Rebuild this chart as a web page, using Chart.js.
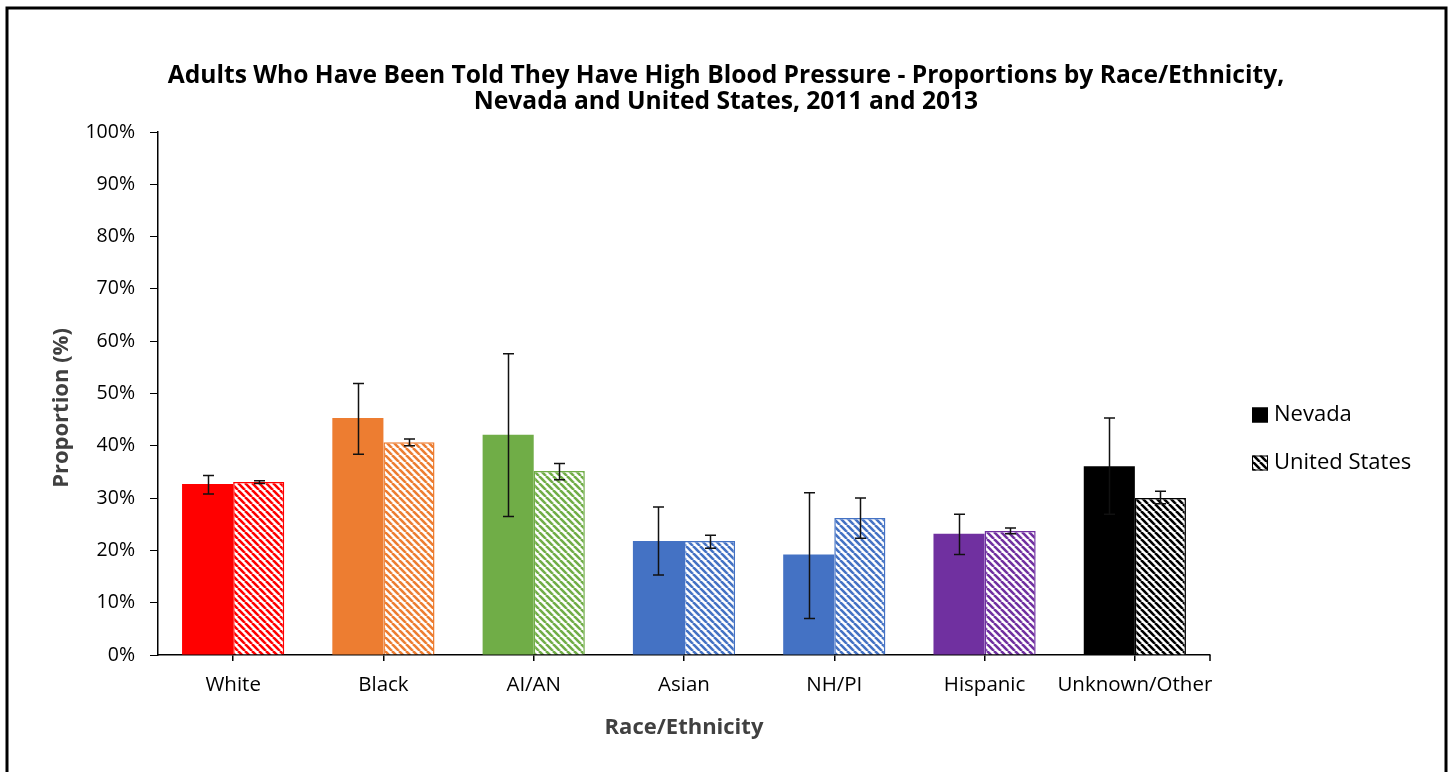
<!DOCTYPE html>
<html>
<head>
<meta charset="utf-8">
<script src="https://cdn.jsdelivr.net/npm/chart.js@4/dist/chart.umd.min.js"></script>
<style>
    html, body { margin: 0; padding: 0; background: #fff; }
    #wrap { width: 1450px; height: 772px; }
</style>
</head>
<body>
<div id="wrap"><canvas id="chart" width="1450" height="772"></canvas></div>
<script>
const titulo = [
    'Adults Who Have Been Told They Have High Blood Pressure - Proportions by Race/Ethnicity,',
    'Nevada and United States, 2011 and 2013'
]
const tituloY = 'Proportion (%)'
const categorias = ['White', 'Black', 'AI/AN', 'Asian', 'NH/PI', 'Hispanic', 'Unknown/Other']
const cores = ['#FF0000', '#ED7D31', '#70AD47', '#4472C4', '#4472C4', '#7030A0', '#000000']

const nevada = [32.7, 45.3, 42.1, 21.8, 19.2, 23.2, 36.1]
const nevadaMin = [30.8, 38.4, 26.5, 15.3, 7.0, 19.2, 26.9]
const nevadaMax = [34.3, 51.9, 57.6, 28.3, 31.0, 26.9, 45.3]

const eua = [33.1, 40.7, 35.2, 21.8, 26.2, 23.7, 30.0]
const euaMin = [32.8, 40.0, 33.5, 20.4, 22.3, 23.2, 28.9]
const euaMax = [33.3, 41.3, 36.6, 22.9, 30.0, 24.3, 31.3]

const yTicks = [0, 10, 20, 30, 40, 50, 60, 70, 80, 90, 100]

const fonte = '"Open Sans", Lato, sans-serif'

// listras diagonais (\) para os Estados Unidos
function hachura(cor) {
    const s = 7
    const c = document.createElement('canvas')
    c.width = s
    c.height = s
    const g = c.getContext('2d')
    g.fillStyle = '#fff'
    g.fillRect(0, 0, s, s)
    g.strokeStyle = cor
    g.lineWidth = 2.6
    for (const k of [-1, 0, 1]) {
        g.beginPath()
        g.moveTo(k * s, 0)
        g.lineTo(k * s + s, s)
        g.stroke()
    }
    return g.createPattern(c, 'repeat')
}

const extras = {
    id: 'extras',
    afterDatasetsDraw(chart) {
        const ctx = chart.ctx
        const y = chart.scales.y
        const series = [[0, nevadaMin, nevadaMax], [1, euaMin, euaMax]]
        ctx.save()
        ctx.strokeStyle = '#111'
        ctx.lineWidth = 1.5
        series.forEach(([ds, lo, hi]) => {
            chart.getDatasetMeta(ds).data.forEach((bar, i) => {
                const x = Math.round(bar.x) + 0.5
                const y1 = y.getPixelForValue(lo[i])
                const y2 = y.getPixelForValue(hi[i])
                ctx.beginPath()
                ctx.moveTo(x, y1)
                ctx.lineTo(x, y2)
                ctx.moveTo(x - 5.5, y1)
                ctx.lineTo(x + 5.5, y1)
                ctx.moveTo(x - 5.5, y2)
                ctx.lineTo(x + 5.5, y2)
                ctx.stroke()
            })
        })
        ctx.restore()
    },
    afterDraw(chart) {
        const ctx = chart.ctx
        const area = chart.chartArea
        ctx.save()
        // tick no fim do eixo x
        ctx.strokeStyle = '#000'
        ctx.lineWidth = 1.5
        ctx.beginPath()
        ctx.moveTo(area.right, area.bottom)
        ctx.lineTo(area.right, area.bottom + 6)
        ctx.stroke()

        // titulo
        ctx.fillStyle = '#000'
        ctx.font = 'bold 24.6px ' + fonte
        ctx.textAlign = 'center'
        ctx.textBaseline = 'middle'
        titulo.forEach((linha, i) => ctx.fillText(linha, 726, 76 + i * 26))

        // titulo do eixo y
        ctx.save()
        ctx.translate(62, 408)
        ctx.rotate(-Math.PI / 2)
        ctx.fillStyle = '#404040'
        ctx.font = 'bold 22px ' + fonte
        ctx.fillText(tituloY, 0, 0)
        ctx.restore()

        // legenda
        const itens = [['Nevada', '#000'], ['United States', hachura('#000')]]
        ctx.font = '22px ' + fonte
        ctx.textAlign = 'left'
        itens.forEach(([nome, fill], i) => {
            const cy = 415 + i * 48
            ctx.fillStyle = fill
            ctx.fillRect(1252, cy - 7.5, 16, 15)
            ctx.strokeStyle = '#000'
            ctx.lineWidth = 1
            ctx.strokeRect(1252.5, cy - 7, 15, 14)
            ctx.fillStyle = '#000'
            ctx.fillText(nome, 1274, cy)
        })

        // moldura
        ctx.strokeStyle = '#000'
        ctx.lineWidth = 3
        ctx.strokeRect(7, 8, 1439, 820)
        ctx.restore()
    }
}

new Chart(document.getElementById('chart'), {
    type: 'bar',
    data: {
        labels: categorias,
        datasets: [{
            label: 'Nevada',
            data: nevada,
            backgroundColor: cores,
            borderWidth: 0
        }, {
            label: 'United States',
            data: eua,
            backgroundColor: cores.map(c => hachura(c)),
            borderColor: cores,
            borderWidth: 1.5
        }]
    },
    options: {
        responsive: false,
        animation: false,
        layout: { padding: { left: 20, right: 240, top: 132, bottom: 0 } },
        datasets: { bar: { categoryPercentage: 0.68, barPercentage: 1 } },
        plugins: {
            legend: { display: false },
            tooltip: { enabled: false },
            title: { display: false }
        },
        scales: {
            x: {
                grid: { offset: false, drawOnChartArea: false, tickLength: 6, color: '#000', lineWidth: 1.5 },
                border: { color: '#000', width: 1.5 },
                ticks: {
                    color: '#000',
                    font: { family: fonte, size: 20.5 },
                    padding: 12,
                    maxRotation: 0,
                    minRotation: 0,
                    autoSkip: false
                },
                title: {
                    display: true,
                    text: 'Race/Ethnicity',
                    color: '#404040',
                    font: { family: fonte, size: 22, weight: 'bold' },
                    padding: { top: 0, bottom: 31 }
                },
                afterFit: scale => { scale.height = 117 }
            },
            y: {
                min: 0,
                max: 100,
                afterBuildTicks: scale => { scale.ticks = yTicks.map(v => ({ value: v })) },
                grid: { drawOnChartArea: false, tickLength: 8, color: '#000', lineWidth: 1 },
                border: { color: '#000', width: 1.5 },
                ticks: { color: '#000', font: { family: fonte, size: 19.5 }, padding: 15, callback: v => v + '%' },
                afterFit: scale => { scale.width = 138 }
            }
        }
    },
    plugins: [extras]
})
</script>
</body>
</html>
